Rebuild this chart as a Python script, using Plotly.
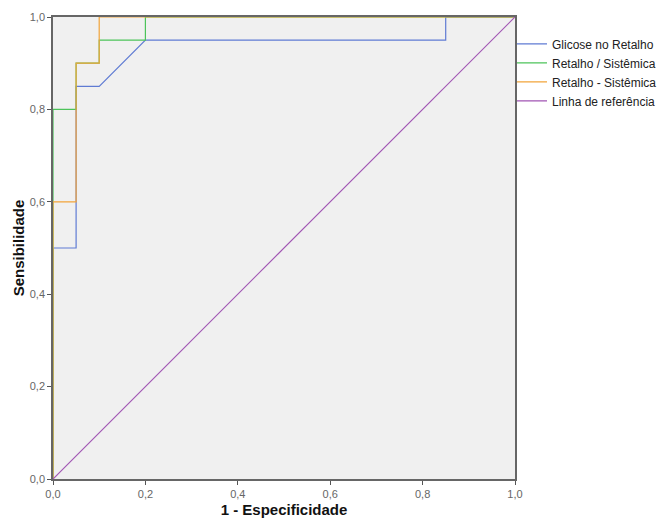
import plotly.graph_objects as go

glicose_x = [0, 0, 0.05, 0.05, 0.1, 0.2, 0.85, 0.85, 1]
glicose_y = [0, 0.5, 0.5, 0.85, 0.85, 0.95, 0.95, 1, 1]

razao_x = [0, 0, 0.05, 0.05, 0.1, 0.1, 0.2, 0.2, 1]
razao_y = [0, 0.8, 0.8, 0.9, 0.9, 0.95, 0.95, 1, 1]

dif_x = [0, 0, 0.05, 0.05, 0.1, 0.1, 1]
dif_y = [0, 0.6, 0.6, 0.9, 0.9, 1, 1]

ref_x = [0, 1]
ref_y = [0, 1]

ticks = [0, 0.2, 0.4, 0.6, 0.8, 1.0]

fig = go.Figure()
fig.add_trace(go.Scatter(x=glicose_x, y=glicose_y, mode="lines", name="Glicose no Retalho",
                         line=dict(color="#5f7bd3", width=1.2)))
fig.add_trace(go.Scatter(x=razao_x, y=razao_y, mode="lines", name="Retalho / Sistêmica",
                         line=dict(color="#4cc35a", width=1.2)))
fig.add_trace(go.Scatter(x=dif_x, y=dif_y, mode="lines", name="Retalho - Sistêmica",
                         line=dict(color="#f2a43a", width=1.2)))
fig.add_trace(go.Scatter(x=ref_x, y=ref_y, mode="lines", name="Linha de referência",
                         line=dict(color="#a155b3", width=1.2)))

axis_common = dict(range=[0, 1], tickvals=ticks, tickformat=".1f", showgrid=False, zeroline=False,
                   ticks="outside", ticklen=4, tickcolor="#555555", showline=True, linecolor="#666666",
                   linewidth=1.5, mirror=True, automargin=False,
                   tickfont=dict(family="Liberation Sans, Arial", size=11, color="#666666"))

fig.update_layout(
    width=658, height=518,
    margin=dict(l=53, r=143, t=17, b=39, autoexpand=False),
    paper_bgcolor="white", plot_bgcolor="#f0f0f0",
    separators=",.",
    showlegend=True,
    legend=dict(x=0.9935, y=0.973, xanchor="left", yanchor="top", bgcolor="rgba(0,0,0,0)",
                font=dict(family="Liberation Sans, Arial", size=12, color="#222222"),
                tracegroupgap=0, itemwidth=30),
    xaxis=dict(axis_common, title=dict(text="<b>1 - Especificidade</b>", standoff=10,
                                       font=dict(family="Liberation Sans, Arial", size=15, color="#111111"))),
    yaxis=dict(axis_common, title=dict(text="<b>Sensibilidade</b>", standoff=2,
                                       font=dict(family="Liberation Sans, Arial", size=15, color="#111111"))),
)

fig.write_html("out.html", config={"displayModeBar": False},
               post_script="document.body.style.margin='0px';document.body.style.overflow='hidden';")
